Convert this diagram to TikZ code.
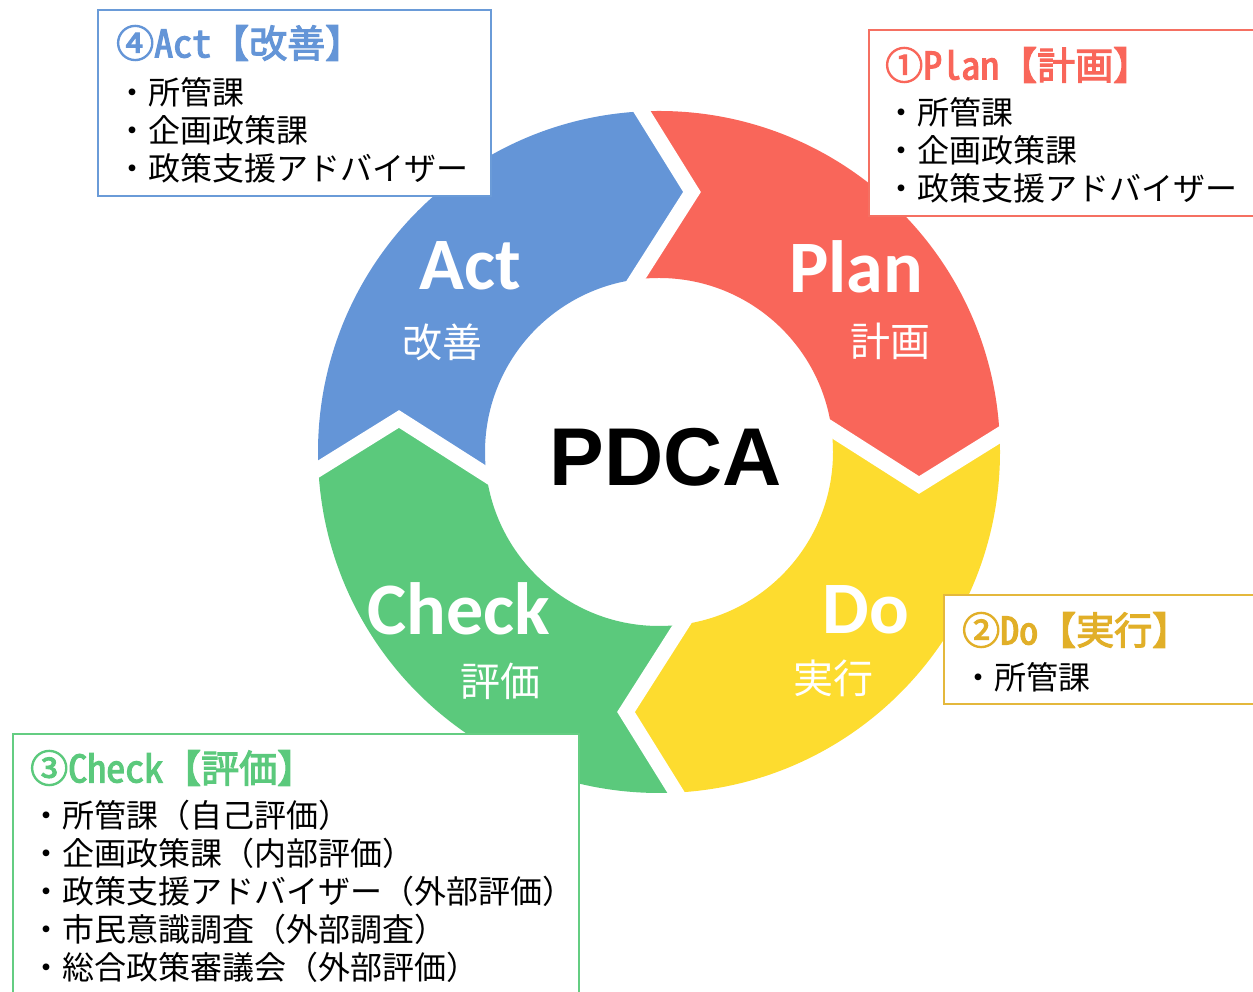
\documentclass[tikz,border=0pt]{standalone}
\usepackage{fontspec}
\newfontfamily\jpfont{Noto Sans CJK JP}
\newfontfamily\jptitle[FakeBold=3]{Noto Sans CJK JP}
\newfontfamily\jphalf[FakeBold=3,RawFeature=+hwid]{Noto Sans CJK JP}
\newfontfamily\ringfont{Carlito}
\newfontfamily\pdcafont{Liberation Sans}
\definecolor{actblue}{RGB}{100,149,215}
\definecolor{planred}{RGB}{249,102,90}
\definecolor{doyellow}{RGB}{253,220,47}
\definecolor{checkgreen}{RGB}{91,201,124}
\definecolor{planline}{RGB}{245,112,98}
\definecolor{actline}{RGB}{106,155,216}
\definecolor{checkline}{RGB}{100,205,130}
\definecolor{doline}{RGB}{228,184,60}
\definecolor{dotitle}{RGB}{225,175,40}
\tikzset{
  ringword/.style={text=white, font=\ringfont\bfseries\fontsize{74}{74}\selectfont},
  ringkanji/.style={text=white, font=\jpfont\fontsize{40}{40}\selectfont},
  infobox/.style={draw, line width=2pt, fill=white, anchor=north west, inner sep=0pt},
  boxtitle/.style={anchor=west, inner sep=0pt, font=\jptitle\fontsize{38}{38}\selectfont},
  boxitem/.style={anchor=west, inner sep=0pt, font=\jpfont\fontsize{32}{32}\selectfont},
}
\begin{document}
\begin{tikzpicture}[x=1pt,y=1pt]
  \clip (0,0) rectangle (1253,992);
  \coordinate (c) at (659,540);
  % chevron boundaries, clockwise from the top
  \foreach \k in {0,1,2,3}{
    \begin{scope}[shift={(c)}, rotate=-90*\k]
      \coordinate (O\k) at (-54,400);
      \coordinate (T\k) at (33,260);
      \coordinate (I\k) at (-69,100);
      \coordinate (K\k) at (495,495);
    \end{scope}
  }
  % ring
  \begin{scope}[even odd rule]
    \clip (c) circle[radius=341] (c) circle[radius=174];
    \fill[planred] (I0) -- (T0) -- (O0) -- (K0) -- (O1) -- (T1) -- (I1) -- (c) -- cycle;
    \fill[doyellow] (I1) -- (T1) -- (O1) -- (K1) -- (O2) -- (T2) -- (I2) -- (c) -- cycle;
    \fill[checkgreen] (I2) -- (T2) -- (O2) -- (K2) -- (O3) -- (T3) -- (I3) -- (c) -- cycle;
    \fill[actblue] (I3) -- (T3) -- (O3) -- (K3) -- (O0) -- (T0) -- (I0) -- (c) -- cycle;
  \end{scope}
  \foreach \k in {0,1,2,3}
    \draw[white, line width=15pt] (O\k) -- (T\k) -- (I\k);

  % words on the ring
  \node[ringword] (plan) at (856,725) {Plan};
  \node[ringkanji] (plan-jp) at (890,651) {計画};
  \node[ringword] (do) at (866,382) {Do};
  \node[ringkanji] (do-jp) at (833,314) {実行};
  \node[ringword] (check) at (459,383) {Check};
  \node[ringkanji] (check-jp) at (500,311) {評価};
  \node[ringword] (act) at (470,726) {Act};
  \node[ringkanji] (act-jp) at (442,650) {改善};
  \node[font=\pdcafont\bfseries\fontsize{82}{82}\selectfont] (pdca) at (666,535) {PDCA};

  % boxes
  \node[infobox, draw=actline, minimum width=393, minimum height=186] (actbox) at (97,983) {};
  \node[boxtitle, text=actblue] (act-title) at (116,949) {④{\jphalf Act}【改善】};
  \foreach \t [count=\i] in {所管課,企画政策課,政策支援アドバイザー}
    \node[boxitem] (act-\i) at (116,992-54-38*\i) {・\t};

  \node[infobox, draw=planline, minimum width=400, minimum height=186] (planbox) at (868,963) {};
  \node[boxtitle, text=planred] (plan-title) at (885,927) {①{\jphalf Plan}【計画】};
  \foreach \t [count=\i] in {所管課,企画政策課,政策支援アドバイザー}
    \node[boxitem] (plan-\i) at (885,992-74-38*\i) {・\t};

  \node[infobox, draw=doline, minimum width=330, minimum height=109] (dobox) at (943,398) {};
  \node[boxtitle, text=dotitle] (do-title) at (962,362) {②{\jphalf Do}【実行】};
  \node[boxitem] (do-1) at (962,315) {・所管課};

  \node[infobox, draw=checkline, minimum width=566, minimum height=290] (checkbox) at (12,259) {};
  \node[boxtitle, text=checkgreen] (check-title) at (30,224) {③{\jphalf Check}【評価】};
  \foreach \t [count=\i] in {所管課（自己評価）,企画政策課（内部評価）,政策支援アドバイザー（外部評価）,市民意識調査（外部調査）,総合政策審議会（外部評価）}
    \node[boxitem] (check-\i) at (30,992-777-38*\i) {・\t};
\end{tikzpicture}
\end{document}
